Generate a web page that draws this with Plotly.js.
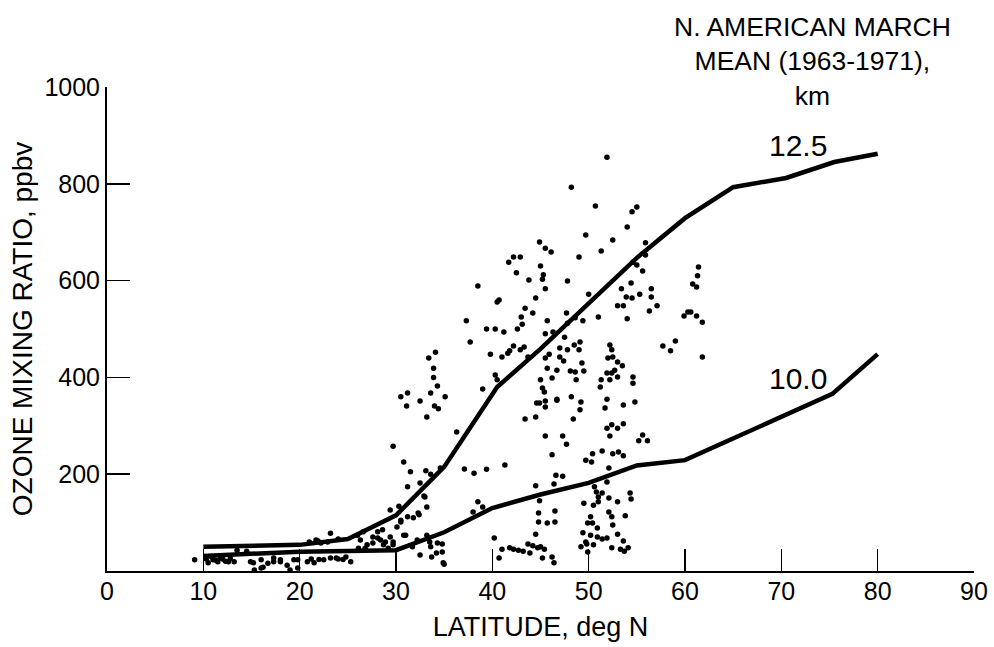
<!DOCTYPE html>
<html>
<head>
<meta charset="utf-8">
<script src="https://cdn.plot.ly/plotly-3.0.1.min.js"></script>
<style>html,body{margin:0;padding:0;background:#fff;}#chart{width:994px;height:647px;}</style>
</head>
<body>
<div id="chart"></div>
<script>
// Mean curves (N. American March mean 1963-1971)
const curve125Lat = [10, 20, 25, 30, 35, 40.5, 45, 50, 55, 60, 65, 70.5, 75.5, 80];
const curve125Ozone = [50, 54, 66, 115, 215, 380, 459, 552, 647, 729, 793, 812, 845, 862];
const curve100Lat = [10, 20, 30, 35, 40, 45, 50, 55, 60, 75.3, 80];
const curve100Ozone = [31, 40, 43, 80, 130, 158, 182, 218, 229, 366, 448];

// Individual observations: latitude (deg N) and ozone (ppbv)
const obsLat = [
9.1,10.3,10.8,11.3,11.8,12.3,12.8,10.5,11,11.5,12,12.6,13.2,13.5,14.5,
14.9,15.2,16,16,16.7,17.3,17.3,18,18,18.7,19,19.4,19.8,19.8,15.3,16.2,
20.8,21.5,22.5,23.2,24,24.8,25.3,21.2,22,23.8,24.5,
21,21.9,23.2,24,21.7,22.2,22.9,
26,26.6,27,27.6,28.1,28.4,28.7,29.4,29.7,30.1,30.5,30.8,31.2,
26.3,27.6,28.1,28.6,28.9,29.2,29.7,26.8,26.1,
29.4,30.3,29.7,30.8,31.2,30.5,31.2,31.1,
37.3,37.7,39.4,40.3,39.8,40.5,39,33.4,34.1,33.9,32.5,33.6,34.3,34,34.4,35.1,33.2,36.3,31.5,33.1,33.6,34.6,37.1,38.1,32.5,33,32.3,33.2,30.5,31.8,32.4,31,32.2,33.2,32.5,33.7,34.2,34.8,34.8,35,38.5,39,38,40.2,40.7,
38.5,40.7,41.2,40.3,40.5,41.7,42.2,42.9,42.5,43.8,44.9,45.5,46.1,45,45.3,45.2,45.5,44.5,43.4,44.2,43,43.1,42.6,42.2,41.8,41.6,41,42.9,43.3,43.7,45.7,45.5,46.3,45.9,45.5,45.7,46.7,46.2,45,45.2,45.4,46.7,44.6,44.9,45.5,45.5,44.5,43.4,45.5,46.2,46.6,46.4,44.5,41.3,44.9,44.8,44.8,45.7,46.5,46.5,44.5,41,41.8,42.2,42.7,43.2,43.7,43.9,44.2,44.7,45,45.4,45.2,46.2,46.4,39.4,33.9,
33.5,31.7,33.6,34.3,34.9,32.9,
51.9,48.2,50.7,54.5,55,54,49.7,52.5,51.3,49,47.8,55.9,55.9,55.6,54.6,55,54.4,53.4,53.9,54.5,55.3,56.5,56.5,57.1,56.3,53,53.6,54,51,50,47.7,48.6,47.8,49.4,47.5,47,47.8,48.5,49,49.1,47.4,47,49.3,48.1,48.6,48.7,49.5,46.7,48.2,49.2,49.1,48.4,47.3,47.7,
52.2,52.4,52,52.5,53,53.5,51.9,52.4,52.7,52.2,53,51.3,51.2,51.9,51.7,53.6,54.6,54.6,54.8,51.9,52.4,53,53.6,52.2,55.6,56.1,55.2,
57.7,58.5,59,59.9,60.3,60.6,61.2,61.8,61.8,60.8,61.2,61.3,61.4,
51.4,50.4,50.3,49.7,52.5,53.1,53.6,52.1,47.3,
50.6,50.8,51,51.4,52.1,53,51,50.5,49.5,50.2,49.9,50.4,50.9,49.4,50.2,50.9,51.4,51.9,52.1,52.4,52.5,53,53.6,53.8,54.3,54.4,51.9,49.2,49.8,50.5,52.4,53.3,53.7,54.1,49.9,49.7
];
const obsOzone = [
23,25,30,22,28,20,26,17,23,19,25,19,19,43,41,
19,17,23,6,16,27,19,19,23,12,2,23,23,6,2,8,
19,17,23,27,25,29,19,25,24,27,24,
60,62,78,66,64,58,60,
74,81,54,70,81,64,54,70,60,91,101,74,112,
64,58,68,85,60,47,54,47,47,
126,134,258,225,174,360,368,341,
517,473,500,500,448,556,376,440,452,419,351,368,382,341,335,360,318,287,205,207,200,213,211,202,182,153,120,132,105,110,116,74,64,74,33,29,37,39,56,14,143,132,122,68,27,
589,560,494,405,395,638,649,649,616,601,680,667,659,630,612,603,583,564,543,533,525,510,500,465,455,450,442,457,463,442,517,490,494,448,440,419,415,399,395,378,370,353,347,347,351,339,318,314,279,240,198,180,176,219,145,120,101,99,124,101,76,45,48,45,43,41,56,37,52,48,50,45,27,29,17,210,400,
60,50,50,58,17,155,
855,793,754,742,752,711,694,684,661,649,599,678,653,620,638,632,595,583,566,564,572,583,566,548,537,548,548,521,525,572,533,523,512,517,483,461,457,467,457,473,434,442,430,413,411,395,413,355,360,349,333,314,279,262,
467,457,440,442,432,424,409,409,415,395,401,395,380,355,337,343,401,388,349,295,302,295,304,279,281,269,269,
465,455,475,527,535,535,527,514,442,593,587,610,628,
248,242,225,229,242,246,238,213,196,
174,163,153,161,151,143,143,136,140,112,99,99,89,79,74,70,66,68,122,112,95,76,62,114,161,149,184,50,56,54,48,45,41,48,39,60
];

const xTicks = [0, 10, 20, 30, 40, 50, 60, 70, 80, 90];
const yTicks = [200, 400, 600, 800, 1000];

const sans = '"Liberation Sans", Arial, sans-serif';

const traces = [
  {x: obsLat, y: obsOzone, type: 'scatter', mode: 'markers',
   marker: {color: '#000', size: 5.5}, hoverinfo: 'x+y', showlegend: false},
  {x: curve125Lat, y: curve125Ozone, type: 'scatter', mode: 'lines',
   line: {color: '#000', width: 4.5}, name: '12.5 km', showlegend: false},
  {x: curve100Lat, y: curve100Ozone, type: 'scatter', mode: 'lines',
   line: {color: '#000', width: 4.5}, name: '10.0 km', showlegend: false}
];

const layout = {
  width: 994, height: 647,
  margin: {l: 107, r: 20, t: 87, b: 76},
  paper_bgcolor: '#fff', plot_bgcolor: '#fff',
  showlegend: false,
  xaxis: {
    range: [0, 90], tickvals: xTicks, ticktext: xTicks.map(String),
    ticks: 'inside', ticklen: 22, tickwidth: 1.5, tickcolor: '#000',
    showline: true, linecolor: '#000', linewidth: 2,
    showgrid: false, zeroline: false,
    tickfont: {family: sans, size: 25, color: '#000'},
    ticklabelstandoff: -3,
    title: {text: 'LATITUDE, deg N', font: {family: sans, size: 27, color: '#000'}, standoff: 13}
  },
  yaxis: {
    range: [0, 1000], tickvals: yTicks, ticktext: yTicks.map(String),
    ticks: 'inside', ticklen: 23, tickwidth: 1.5, tickcolor: '#000',
    showline: true, linecolor: '#000', linewidth: 2,
    showgrid: false, zeroline: false,
    tickfont: {family: sans, size: 25, color: '#000'},
    ticklabelstandoff: 0,
    title: {text: 'OZONE MIXING RATIO, ppbv', font: {family: sans, size: 28, color: '#000'}, standoff: 4}
  },
  annotations: [
    {xref: 'x', yref: 'paper', x: 73.2, y: 1.16, xanchor: 'center', yanchor: 'top',
     text: 'N. AMERICAN MARCH<br>MEAN (1963-1971),<br>km', showarrow: false, align: 'center',
     font: {family: sans, size: 26.5, color: '#000'}},
    {xref: 'x', yref: 'y', x: 71.7, y: 880, text: '12.5', showarrow: false,
     font: {family: sans, size: 30, color: '#000'}},
    {xref: 'x', yref: 'y', x: 71.7, y: 397, text: '10.0', showarrow: false,
     font: {family: sans, size: 30, color: '#000'}}
  ]
};

Plotly.newPlot('chart', traces, layout, {displayModeBar: false, staticPlot: true});
</script>
</body>
</html>
